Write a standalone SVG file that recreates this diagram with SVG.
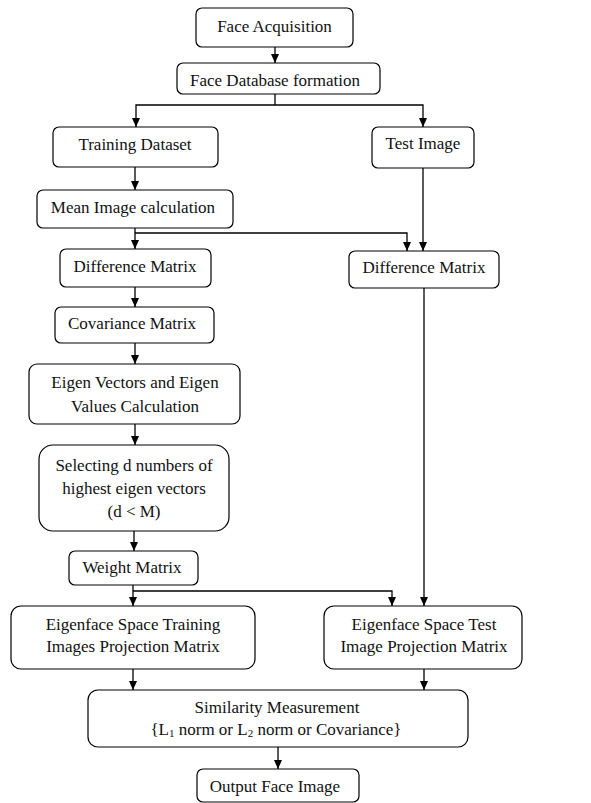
<svg xmlns="http://www.w3.org/2000/svg" width="591" height="803" viewBox="0 0 591 803">
<style>
.box{fill:#fff;stroke:#000;stroke-width:1.2}
.lbl{font-family:"Liberation Serif","Times New Roman",serif;font-size:17px;fill:#111;text-anchor:middle}
.sub{font-size:11px}
.con{fill:none;stroke:#000;stroke-width:1.3}
</style>
<defs>
<marker id="ah" markerUnits="userSpaceOnUse" markerWidth="9" markerHeight="10" refX="9" refY="4" orient="auto" viewBox="0 0 9 8">
<path d="M0,0 L9,4 L0,8 z" fill="#000"/>
</marker>
</defs>
<rect width="591" height="803" fill="#fff"/>
<g id="connectors">
<path class="con" d="M275,47 V63" marker-end="url(#ah)"/>
<path class="con" d="M275,94 V105"/>
<path class="con" d="M275,105 H136 V127" marker-end="url(#ah)"/>
<path class="con" d="M275,105 H423 V127" marker-end="url(#ah)"/>
<path class="con" d="M135,167 V190" marker-end="url(#ah)"/>
<path class="con" d="M135,228 V249" marker-end="url(#ah)"/>
<path class="con" d="M135,233 H407 V251" marker-end="url(#ah)"/>
<path class="con" d="M423,168 V251" marker-end="url(#ah)"/>
<path class="con" d="M135,287 V307" marker-end="url(#ah)"/>
<path class="con" d="M135,343 V364" marker-end="url(#ah)"/>
<path class="con" d="M135,424 V445" marker-end="url(#ah)"/>
<path class="con" d="M134,531 V551" marker-end="url(#ah)"/>
<path class="con" d="M133,585 V606" marker-end="url(#ah)"/>
<path class="con" d="M133,591 H392 V606" marker-end="url(#ah)"/>
<path class="con" d="M424,288 V606" marker-end="url(#ah)"/>
<path class="con" d="M133,669 V690" marker-end="url(#ah)"/>
<path class="con" d="M424,669 V690" marker-end="url(#ah)"/>
<path class="con" d="M278,747 V769" marker-end="url(#ah)"/>
</g>
<g id="face-acquisition">
<rect class="box" x="196" y="8" width="157" height="39" rx="6"/>
<text class="lbl" x="274.5" y="32">Face Acquisition</text>
</g>
<g id="face-database">
<rect class="box" x="177" y="63" width="203" height="31" rx="6"/>
<text class="lbl" x="275" y="86">Face Database formation</text>
</g>
<g id="training-dataset">
<rect class="box" x="53" y="127" width="165" height="40" rx="6"/>
<text class="lbl" x="135" y="150">Training Dataset</text>
</g>
<g id="test-image">
<rect class="box" x="372" y="127" width="102" height="41" rx="6"/>
<text class="lbl" x="423" y="149">Test Image</text>
</g>
<g id="mean-image">
<rect class="box" x="37" y="190" width="196" height="38" rx="6"/>
<text class="lbl" x="133" y="213">Mean Image calculation</text>
</g>
<g id="difference-left">
<rect class="box" x="60" y="249" width="151" height="38" rx="6"/>
<text class="lbl" x="135" y="272">Difference Matrix</text>
</g>
<g id="difference-right">
<rect class="box" x="349" y="251" width="150" height="37" rx="6"/>
<text class="lbl" x="424" y="273">Difference Matrix</text>
</g>
<g id="covariance">
<rect class="box" x="55" y="307" width="159" height="36" rx="6"/>
<text class="lbl" x="132" y="329">Covariance Matrix</text>
</g>
<g id="eigen-vectors">
<rect class="box" x="29" y="364" width="211" height="60" rx="8"/>
<text class="lbl" x="135" y="388">Eigen Vectors and Eigen</text>
<text class="lbl" x="135" y="412">Values Calculation</text>
</g>
<g id="selecting">
<rect class="box" x="39" y="445" width="190" height="86" rx="14"/>
<text class="lbl" x="134" y="471">Selecting d numbers of</text>
<text class="lbl" x="134" y="494">highest eigen vectors</text>
<text class="lbl" x="134" y="517">(d &lt; M)</text>
</g>
<g id="weight-matrix">
<rect class="box" x="69" y="551" width="129" height="34" rx="6"/>
<text class="lbl" x="132" y="573">Weight Matrix</text>
</g>
<g id="eigenface-training">
<rect class="box" x="11" y="606" width="244" height="63" rx="10"/>
<text class="lbl" x="133" y="630">Eigenface Space Training</text>
<text class="lbl" x="133" y="652">Images Projection Matrix</text>
</g>
<g id="eigenface-test">
<rect class="box" x="324" y="606" width="198" height="63" rx="10"/>
<text class="lbl" x="424" y="630">Eigenface Space Test</text>
<text class="lbl" x="424" y="652">Image Projection Matrix</text>
</g>
<g id="similarity">
<rect class="box" x="88" y="690" width="380" height="57" rx="10"/>
<text class="lbl" x="277" y="713">Similarity Measurement</text>
<text class="lbl" x="276" y="735">{L<tspan class="sub" dy="2">1</tspan><tspan dy="-2"> norm or L</tspan><tspan class="sub" dy="2">2</tspan><tspan dy="-2"> norm or Covariance}</tspan></text>
</g>
<g id="output-face">
<rect class="box" x="197" y="769" width="162" height="33" rx="6"/>
<text class="lbl" x="275" y="792">Output Face Image</text>
</g>
</svg>
